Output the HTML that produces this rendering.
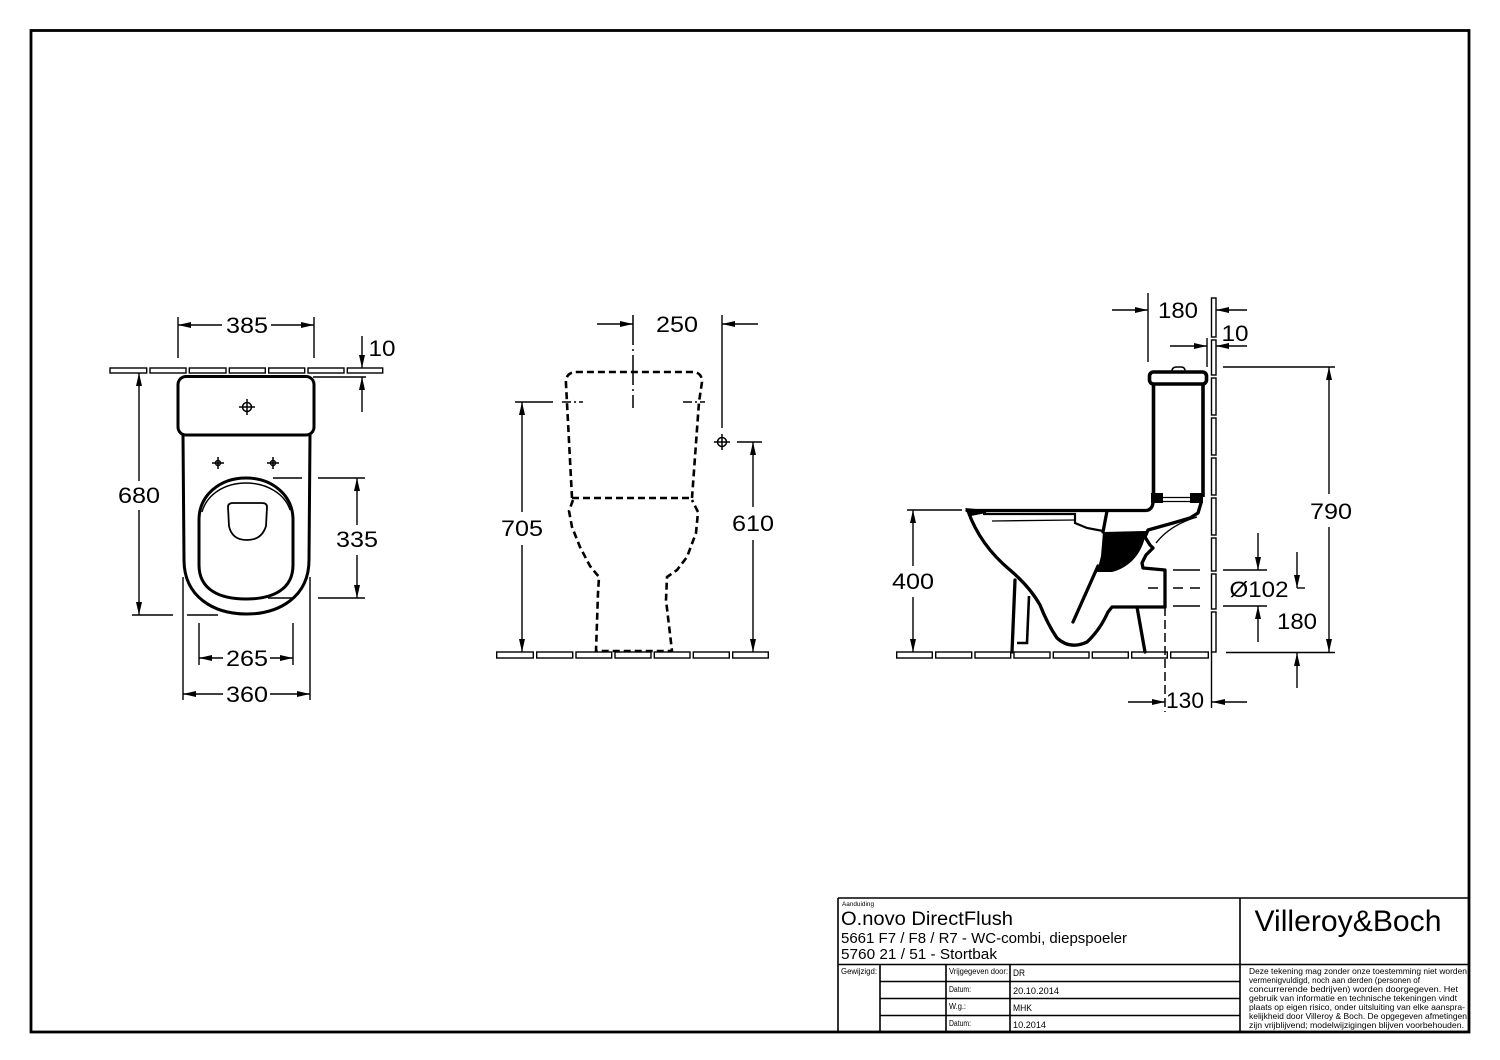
<!DOCTYPE html>
<html><head><meta charset="utf-8"><style>
html,body{margin:0;padding:0;background:#fff;}
svg{display:block;}
text{font-family:"Liberation Sans",Arial,sans-serif;fill:#000;}
</style></head><body>
<svg width="1500" height="1060" viewBox="0 0 1500 1060" xmlns="http://www.w3.org/2000/svg">
<defs>
<marker id="ar" markerWidth="13" markerHeight="7" refX="13" refY="3.5" orient="auto" markerUnits="userSpaceOnUse"><path d="M0,0.5 L13,3.5 L0,6.5 Z" fill="#000"/></marker>
</defs>
<rect x="0" y="0" width="1500" height="1060" fill="#fff"/>
<!-- border -->
<rect x="31" y="30.5" width="1438" height="1001.5" fill="none" stroke="#000" stroke-width="2.8"/>

<!-- ================= LEFT VIEW (top) ================= -->
<g fill="none" stroke="#000" stroke-width="1.4">
<rect x="110" y="368" width="36.7" height="5"/><rect x="150" y="368" width="36" height="5"/><rect x="189.3" y="368" width="36.7" height="5"/><rect x="229.3" y="368" width="36" height="5"/><rect x="268.7" y="368" width="36" height="5"/><rect x="308" y="368" width="36" height="5"/><rect x="347.3" y="368" width="35.4" height="5"/>
</g>
<g fill="none" stroke="#000" stroke-width="3" stroke-linejoin="round">
<rect x="178" y="376.5" width="136" height="58.5" rx="8"/>
<path d="M183,435 L184,560 C184,597 214,614 246.5,614 C279,614 309,597 309,560 L310,435"/>
<path d="M199,520 L199,565 C199,590 220,599 246,599 C272,599 293,590 293,565 L293,520 C293,495 272,478 246,478 C220,478 199,495 199,520 Z"/>
</g>
<path d="M202,512 C207,494 225,483 246,483 C267,483 285,494 290,510" fill="none" stroke="#000" stroke-width="1.4"/>
<path d="M228,507 Q228,503 233,503 L262,503 Q267,503 267,507 L266,526 C263,536 256,540 247,540 C238,540 231,536 229,526 Z" fill="none" stroke="#000" stroke-width="1.8"/>
<g fill="none" stroke="#000" stroke-width="1.5">
<circle cx="247" cy="407" r="4.5"/><path d="M247,399 V415 M239,407 H255"/>
<circle cx="218" cy="463" r="2.5"/><path d="M218,457 V469 M212,463 H224"/>
<circle cx="273" cy="463" r="2.5"/><path d="M273,457 V469 M267,463 H279"/>
</g>
<g fill="none" stroke="#000" stroke-width="1.4">
<!-- 385 -->
<path d="M178,317 V358 M314,317 V358"/>
<line x1="222" y1="325" x2="178" y2="325" marker-end="url(#ar)"/>
<line x1="271" y1="325" x2="314" y2="325" marker-end="url(#ar)"/>
<!-- 10 -->
<line x1="362" y1="336" x2="362" y2="368" marker-end="url(#ar)"/>
<line x1="362" y1="412" x2="362" y2="377" marker-end="url(#ar)"/>
<path d="M313,377 H366"/>
<!-- 680 -->
<line x1="139" y1="481" x2="139" y2="373" marker-end="url(#ar)"/>
<line x1="139" y1="510" x2="139" y2="615" marker-end="url(#ar)"/>
<path d="M132,615 H173 M187,615 H218"/>
<!-- 335 -->
<path d="M273,478 H302 M318,478 H365 M268,598 H295 M318,598 H365"/>
<line x1="357" y1="525" x2="357" y2="478" marker-end="url(#ar)"/>
<line x1="357" y1="555" x2="357" y2="598" marker-end="url(#ar)"/>
<!-- 265 -->
<path d="M199,623 V665 M293,623 V665"/>
<line x1="223" y1="658" x2="199" y2="658" marker-end="url(#ar)"/>
<line x1="270" y1="658" x2="293" y2="658" marker-end="url(#ar)"/>
<!-- 360 -->
<path d="M183,577 V700 M310,577 V700"/>
<line x1="223" y1="694" x2="183" y2="694" marker-end="url(#ar)"/>
<line x1="270" y1="694" x2="310" y2="694" marker-end="url(#ar)"/>
</g>
<g font-size="22.5" text-anchor="middle">
<text x="247" y="333" textLength="42" lengthAdjust="spacingAndGlyphs">385</text>
<text x="382" y="356" textLength="27" lengthAdjust="spacingAndGlyphs">10</text>
<text x="139" y="503" textLength="42" lengthAdjust="spacingAndGlyphs">680</text>
<text x="357" y="547" textLength="42" lengthAdjust="spacingAndGlyphs">335</text>
<text x="247" y="666" textLength="42" lengthAdjust="spacingAndGlyphs">265</text>
<text x="247" y="702" textLength="42" lengthAdjust="spacingAndGlyphs">360</text>
</g>

<!-- ================= MIDDLE VIEW (front) ================= -->
<g fill="none" stroke="#000" stroke-width="1.4">
<rect x="496.7" y="652" width="36.6" height="6"/><rect x="536.7" y="652" width="36" height="6"/><rect x="576" y="652" width="35.7" height="6"/><rect x="615" y="652" width="36" height="6"/><rect x="654.3" y="652" width="35.7" height="6"/><rect x="693.3" y="652" width="36" height="6"/><rect x="732.7" y="652" width="35.6" height="6"/>
</g>
<g fill="none" stroke="#000" stroke-width="2.6" stroke-dasharray="7,4">
<path d="M572,498 L566,384 Q565,372 577,372 L692,372 Q702,372 702,382 L699,402 L692,498"/>
<path d="M572,498 H692"/>
<path d="M573,500 L569,511 L572,527 L580,547 L590,566 L599,577 L598,593 L596,651 L672,651 L666,600 L667,577 L677,570 L687,557 L696,533 L698,512 L692,500"/>
</g>
<g fill="none" stroke="#000" stroke-width="1.5">
<path d="M633,315 V408" stroke-dasharray="30,4,2,4"/>
<path d="M562,402 H583 M683,402 H705" stroke-dasharray="9,3,2,3"/>
<circle cx="722" cy="442" r="4.5"/><path d="M722,434 V450 M714,442 H730"/>
</g>
<g fill="none" stroke="#000" stroke-width="1.4">
<line x1="597" y1="324" x2="633" y2="324" marker-end="url(#ar)"/>
<line x1="758" y1="324" x2="722" y2="324" marker-end="url(#ar)"/>
<path d="M722,315 V428"/>
<path d="M515,402 H553"/>
<line x1="522" y1="512" x2="522" y2="402" marker-end="url(#ar)"/>
<line x1="522" y1="545" x2="522" y2="652" marker-end="url(#ar)"/>
<path d="M737,442 H762"/>
<line x1="753" y1="507" x2="753" y2="442" marker-end="url(#ar)"/>
<line x1="753" y1="540" x2="753" y2="652" marker-end="url(#ar)"/>
</g>
<g font-size="22.5" text-anchor="middle">
<text x="677" y="332" textLength="42" lengthAdjust="spacingAndGlyphs">250</text>
<text x="522" y="536" textLength="42" lengthAdjust="spacingAndGlyphs">705</text>
<text x="753" y="531" textLength="42" lengthAdjust="spacingAndGlyphs">610</text>
</g>

<!-- ================= RIGHT VIEW (side) ================= -->
<g fill="none" stroke="#000" stroke-width="1.4">
<rect x="896.7" y="652" width="35.6" height="6"/><rect x="935.7" y="652" width="36" height="6"/><rect x="975" y="652" width="35.7" height="6"/><rect x="1014" y="652" width="36" height="6"/><rect x="1053.3" y="652" width="35.7" height="6"/><rect x="1092.3" y="652" width="36" height="6"/><rect x="1131.7" y="652" width="35.6" height="6"/><rect x="1170.7" y="652" width="37.6" height="6"/>
<rect x="1211.5" y="298" width="4.5" height="39"/><rect x="1211.5" y="340" width="4.5" height="35"/><rect x="1211.5" y="378" width="4.5" height="37"/><rect x="1211.5" y="418" width="4.5" height="37"/><rect x="1211.5" y="458" width="4.5" height="37"/><rect x="1211.5" y="498" width="4.5" height="37"/><rect x="1211.5" y="538" width="4.5" height="33"/><rect x="1211.5" y="574" width="4.5" height="35"/><rect x="1211.5" y="612" width="4.5" height="40"/>
</g>
<!-- tank -->
<g fill="none" stroke="#000" stroke-width="3.6" stroke-linejoin="round">
<rect x="1149.5" y="372" width="57" height="12" rx="4"/>
<path d="M1153.5,384 V497 M1203,384 V497"/>
</g>
<path d="M1172,371 Q1172,367 1177,367 L1181,367 Q1185,367 1185,371" fill="none" stroke="#000" stroke-width="1.6"/>
<rect x="1151" y="493" width="12" height="10" fill="#000"/>
<rect x="1190" y="493" width="13" height="10" fill="#000"/>
<path d="M1163,497.5 H1190 M1163,501.5 H1190" stroke="#000" stroke-width="1.3"/>
<!-- bowl -->
<g fill="none" stroke="#000" stroke-width="3.3" stroke-linejoin="round" stroke-linecap="round">
<path d="M967,510.5 L1146,510.5 Q1152,510 1153,503"/>
<path d="M968,511 Q980,545 1010,570 Q1030,587 1040,605 Q1048,625 1057,638 Q1070,650 1087,642 Q1100,630 1108,612 L1112,607 L1165,607"/>
<path d="M1201,503 L1198,513 L1190,518 L1173,523 L1148,530 L1145,537 L1150,545 L1153,548 L1146,555 L1142,563 L1143,568 L1165,570 L1165,607"/>
<path d="M1073,622 L1098,566"/>
<path d="M1107,511 L1103,532"/>
<path d="M1015,580 L1012,652"/>
<path d="M1137,607 L1145,652"/>
</g>
<path d="M1029,596 L1027,643 L1017,643" fill="none" stroke="#000" stroke-width="2.6"/>
<path d="M983,514 L1075,514 L1075,523 L1087,528 L1103,531" fill="none" stroke="#000" stroke-width="2.2"/>
<path d="M992,521 L1075,520" fill="none" stroke="#000" stroke-width="1.3"/>
<path d="M1197,517 Q1170,525 1156,543" fill="none" stroke="#000" stroke-width="1.4"/>
<path d="M1103,532 L1146,531 C1144,550 1132,567 1112,572 L1097,572 L1101,556 Z" fill="#000"/>
<polygon points="965,508 987,510 986,513 971,516" fill="#000"/>
<!-- outlet dashes -->
<g fill="none" stroke="#000" stroke-width="1.5">
<path d="M1173,570 H1200 M1173,606 H1200"/>
<path d="M1148,588 H1158 M1173,588 H1183 M1190,588 H1200"/>
<path d="M1165,607 V712" stroke-dasharray="9,4"/>
</g>
<!-- right dims -->
<g fill="none" stroke="#000" stroke-width="1.4">
<path d="M1148,293 V362"/>
<line x1="1112" y1="310" x2="1148" y2="310" marker-end="url(#ar)"/>
<line x1="1247" y1="310" x2="1216" y2="310" marker-end="url(#ar)"/>
<path d="M1207,338 V367"/>
<line x1="1170" y1="346" x2="1207" y2="346" marker-end="url(#ar)"/>
<line x1="1247" y1="346" x2="1216" y2="346" marker-end="url(#ar)"/>
<!-- 790 -->
<path d="M1223,367 H1335 M1226,652.5 H1335"/>
<line x1="1329" y1="494" x2="1329" y2="367" marker-end="url(#ar)"/>
<line x1="1329" y1="527" x2="1329" y2="652" marker-end="url(#ar)"/>
<!-- 400 -->
<path d="M907,510 H962"/>
<line x1="913" y1="566" x2="913" y2="510" marker-end="url(#ar)"/>
<line x1="913" y1="597" x2="913" y2="652" marker-end="url(#ar)"/>
<!-- O102 -->
<path d="M1223,570 H1267 M1223,606 H1267"/>
<line x1="1258" y1="533" x2="1258" y2="570" marker-end="url(#ar)"/>
<line x1="1258" y1="642" x2="1258" y2="606" marker-end="url(#ar)"/>
<!-- 180 right -->
<line x1="1297" y1="552" x2="1297" y2="588" marker-end="url(#ar)"/>
<path d="M1297,588 H1305"/>
<line x1="1297" y1="688" x2="1297" y2="653" marker-end="url(#ar)"/>
<!-- 130 -->
<path d="M1211.5,652 V708"/>
<line x1="1128" y1="702" x2="1165" y2="702" marker-end="url(#ar)"/>
<line x1="1247" y1="702" x2="1212" y2="702" marker-end="url(#ar)"/>
</g>
<g font-size="22.5" text-anchor="middle">
<text x="1178" y="318" textLength="40" lengthAdjust="spacingAndGlyphs">180</text>
<text x="1235" y="341" textLength="27" lengthAdjust="spacingAndGlyphs">10</text>
<text x="1331" y="519" textLength="42" lengthAdjust="spacingAndGlyphs">790</text>
<text x="913" y="589" textLength="42" lengthAdjust="spacingAndGlyphs">400</text>
<text x="1259" y="597" textLength="59" lengthAdjust="spacingAndGlyphs">Ø102</text>
<text x="1297" y="629" textLength="40" lengthAdjust="spacingAndGlyphs">180</text>
<text x="1185" y="708" textLength="38" lengthAdjust="spacingAndGlyphs">130</text>
</g>

<!-- ================= TITLE BLOCK ================= -->
<g fill="none" stroke="#000" stroke-width="1.6">
<path d="M838,898 H1469 M838,898 V1032 M1240,898 V1032 M838,964.5 H1469"/>
<path d="M880,981.5 H1240 M880,998.5 H1240 M880,1015.5 H1240"/>
<path d="M880,964.5 V1032 M946,964.5 V1032 M1010,964.5 V1032"/>
</g>
<text x="842" y="906" font-size="6.5" textLength="32" lengthAdjust="spacingAndGlyphs">Aanduiding</text>
<text x="841" y="925" font-size="19.5" textLength="172" lengthAdjust="spacingAndGlyphs">O.novo DirectFlush</text>
<text x="841" y="943" font-size="14.5" textLength="286" lengthAdjust="spacingAndGlyphs">5661 F7 / F8 / R7 - WC-combi, diepspoeler</text>
<text x="841" y="959" font-size="14.5" textLength="156" lengthAdjust="spacingAndGlyphs">5760 21 / 51 - Stortbak</text>
<text x="1348" y="931" font-size="30" text-anchor="middle" textLength="187" lengthAdjust="spacingAndGlyphs">Villeroy&amp;Boch</text>
<g font-size="8">
<text x="841" y="974" textLength="36" lengthAdjust="spacingAndGlyphs">Gewijzigd:</text>
<text x="949" y="974" textLength="59" lengthAdjust="spacingAndGlyphs">Vrijgegeven door:</text>
<text x="949" y="992" textLength="22" lengthAdjust="spacingAndGlyphs">Datum:</text>
<text x="949" y="1009" textLength="17" lengthAdjust="spacingAndGlyphs">W.g.:</text>
<text x="949" y="1026" textLength="22" lengthAdjust="spacingAndGlyphs">Datum:</text>
</g>
<g font-size="9.5">
<text x="1013" y="976" textLength="12" lengthAdjust="spacingAndGlyphs">DR</text>
<text x="1013" y="994" textLength="46" lengthAdjust="spacingAndGlyphs">20.10.2014</text>
<text x="1013" y="1011" textLength="19" lengthAdjust="spacingAndGlyphs">MHK</text>
<text x="1013" y="1028" textLength="33" lengthAdjust="spacingAndGlyphs">10.2014</text>
</g>
<g font-size="8.3">
<text x="1249" y="974" textLength="218" lengthAdjust="spacingAndGlyphs">Deze tekening mag zonder onze toestemming niet worden</text>
<text x="1249" y="983" textLength="171" lengthAdjust="spacingAndGlyphs">vermenigvuldigd, noch aan derden  (personen of</text>
<text x="1249" y="992" textLength="209" lengthAdjust="spacingAndGlyphs">concurrerende bedrijven) worden doorgegeven. Het</text>
<text x="1249" y="1001" textLength="208" lengthAdjust="spacingAndGlyphs">gebruik van informatie en technische tekeningen  vindt</text>
<text x="1249" y="1010" textLength="216" lengthAdjust="spacingAndGlyphs">plaats op eigen risico, onder uitsluiting van elke aanspra-</text>
<text x="1249" y="1019" textLength="218" lengthAdjust="spacingAndGlyphs">kelijkheid door Villeroy &amp; Boch. De opgegeven afmetingen</text>
<text x="1249" y="1028" textLength="215" lengthAdjust="spacingAndGlyphs">zijn vrijblijvend; modelwijzigingen blijven voorbehouden.</text>
</g>
</svg>
</body></html>
